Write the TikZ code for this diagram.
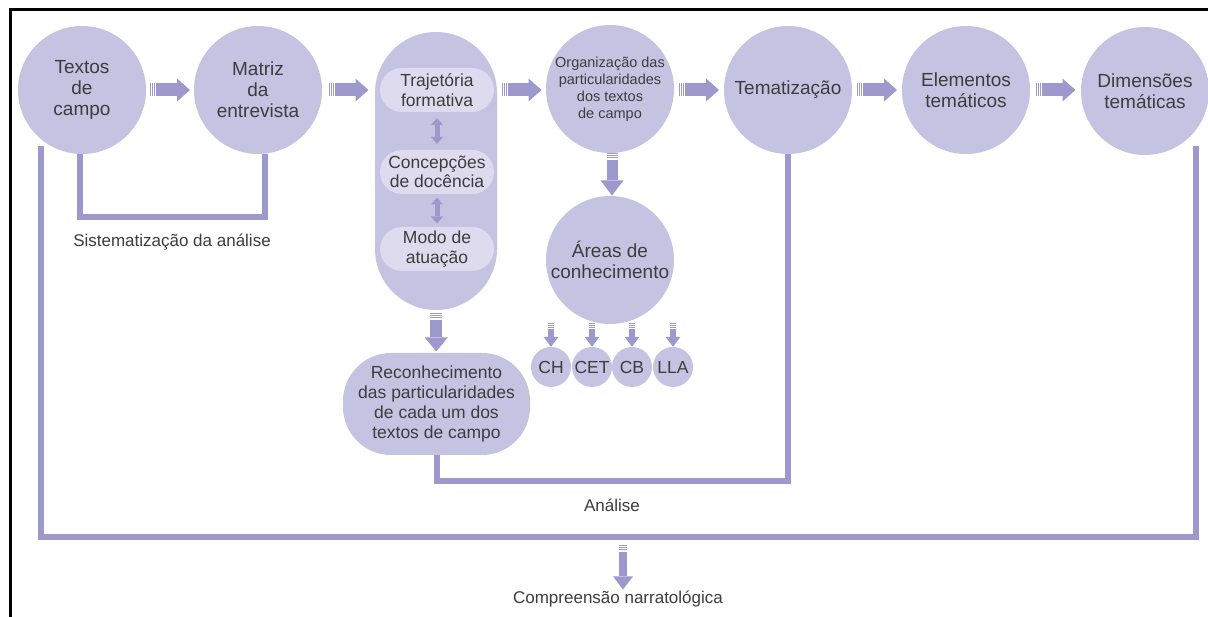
\documentclass[tikz,border=0pt]{standalone}
\usepackage{fontspec}
\setmainfont{Liberation Sans}
\usetikzlibrary{arrows.meta,calc}
\definecolor{cfill}{HTML}{C6C2E1}
\definecolor{cline}{HTML}{9E99CC}
\definecolor{cin}{HTML}{DEDBEE}
\definecolor{ctxt}{HTML}{3D3D3D}
\begin{document}
\begin{tikzpicture}[x=1pt,y=-1pt,
  txt/.style={text=ctxt, font=\fontsize{19}{21}\selectfont, align=center},
  circ/.style={circle, fill=cfill, minimum size=128pt, inner sep=0pt, txt},
  inpill/.style={rectangle, rounded corners=22pt, fill=cin, minimum width=114pt, minimum height=44pt, inner sep=0pt, txt, font=\fontsize{17.5}{19.5}\selectfont},
  smallc/.style={circle, fill=cfill, minimum size=40pt, inner sep=0pt, txt, font=\fontsize{17.5}{20}\selectfont},
  conn/.style={draw=cline, line width=6pt},
  arr/.style n args={4}{draw=cline, line width=#1, -{Triangle[width=#2,length=#3,line width=0pt]},
     dash pattern=on 1pt off 1pt on 1pt off 1pt on 1pt off #4 on 500pt},
  bigarr/.style={arr={13pt}{23pt}{13pt}{1pt}},
  dblarr/.style={draw=cline, line width=5pt, {Triangle[width=12pt,length=7pt,line width=0pt]}-{Triangle[width=12pt,length=7pt,line width=0pt]}},
  lbl/.style={text=ctxt, font=\fontsize{17}{20}\selectfont}
]
\fill[white] (0,0) rectangle (1208,617);
\useasboundingbox (0,0) rectangle (1208,617);
\draw[line width=3pt] (10,617) -- (10,10) -- (1208,10);

% main nodes
\node[circ] (tex) at (82,90) {Textos\\de\\campo};
\node[circ] (mat) at (258,90) {Matriz\\da\\entrevista};
\node[rectangle, rounded corners=61pt, fill=cfill, minimum width=122pt, minimum height=278pt, inner sep=0pt] (pill) at (436,171) {};
\node[inpill] (tf) at (437,90) {Trajetória\\formativa};
\node[inpill] (cd) at (437,172) {Concepções\\de docência};
\node[inpill] (ma) at (437,249) {Modo de\\atuação};
\node[circ, inner sep=-6pt, font=\fontsize{14.5}{17}\selectfont] (org) at (610,89) {Organização das\\particularidades\\dos textos\\de campo};
\node[circ] (are) at (610,260) {Áreas de\\conhecimento};
\node[circ] (tem) at (788,90) {Tematização};
\node[circ] (ele) at (966,90) {Elementos\\temáticos};
\node[circ] (dim) at (1145,91) {Dimensões\\temáticas};
\node[rectangle, rounded corners=48pt, fill=cfill, minimum width=187pt, minimum height=102pt, inner sep=0pt, txt, font=\fontsize{17.5}{20.3}\selectfont] (rec) at (436.5,404) {Reconhecimento\\das particularidades\\de cada um dos\\textos de campo};

\node[smallc] (ch) at (551,367) {CH};
\node[smallc] (cet) at (592,367) {CET};
\node[smallc] (cb) at (632,367) {CB};
\node[smallc] (lla) at (673,367) {LLA};

% labels
\node[lbl] (sist) at (172,242) {Sistematização da análise};
\node[lbl] (ana) at (612,505) {Análise};
\node[lbl] (comp) at (618,599) {Compreensão narratológica};

% horizontal arrows
\foreach \a/\b in {tex/mat, mat/pill, pill/org, org/tem, tem/ele, ele/dim}{
  \draw[bigarr] ($($(\a.east |- tex.center)!0.5!(\b.west |- tex.center)$)+(-20,0)$) -- ($($(\a.east |- tex.center)!0.5!(\b.west |- tex.center)$)+(20,0)$);
}
% vertical arrows
\draw[arr={12pt}{23pt}{14pt}{2pt}] ($($(pill.south)!0.5!(rec.north)$)+(0,-18)$) -- ($($(pill.south)!0.5!(rec.north)$)+(0,20)$);
\draw[arr={11pt}{23pt}{15pt}{2pt}] ($($(org.south)!0.5!(are.north)$)+(2,-21)$) -- ($($(org.south)!0.5!(are.north)$)+(2,21)$);
\foreach \c in {ch,cet,cb,lla}{
  \draw[arr={6pt}{15pt}{10pt}{1pt}] (\c.north |- are.south) ++(0,-1) -- (\c.north);
}
% double arrows
\draw[dblarr] ($($(tf.south)!0.5!(cd.north)$)+(0,-13)$) -- ($($(tf.south)!0.5!(cd.north)$)+(0,13)$);
\draw[dblarr] ($($(cd.south)!0.5!(ma.north)$)+(0,-13)$) -- ($($(cd.south)!0.5!(ma.north)$)+(0,13)$);

% brackets
\draw[conn] ([xshift=-2pt]tex.south) -- ++(0,63) -| ([xshift=7pt]mat.south);
\draw[conn] (rec.south) -- ++(0,26) -| (tem.south);
\coordinate (bl) at (41,146);
\coordinate (br) at (1196,146);
\coordinate (jn) at (623,537);
\draw[conn] (bl) |- (br |- jn) -- (br);
\draw[arr={8pt}{20pt}{13pt}{2pt}] ($(jn)+(0,8)$) -- ($(comp.north)+(5,2)$);
\end{tikzpicture}
\end{document}
